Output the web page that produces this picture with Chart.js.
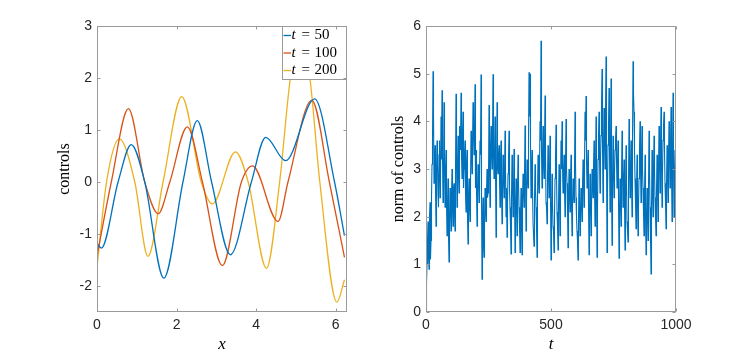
<!DOCTYPE html>
<html lang="en">
<head>
<meta charset="UTF-8">
<title>Controls</title>
<script src="https://cdn.jsdelivr.net/npm/chart.js"></script>
<style>
  body { margin: 0; background: #fff; }
  #wrap { position: relative; width: 747px; height: 357px; }
  canvas { position: absolute; top: 0; }
  #left { left: 0; }
  #right { left: 373px; }
</style>
</head>
<body>
<div id="wrap">
  <canvas id="left" width="373" height="357"></canvas>
  <canvas id="right" width="374" height="357"></canvas>
</div>
<script>
// left panel: controls u(x) at three times
const seriesNames = ['50', '100', '200'];
const seriesColors = ['#0072BD', '#D95319', '#EDB120'];

const x50 = [0, 0.11, 0.53, 0.86, 1.2, 1.68, 2.16, 2.52, 2.88, 3.35, 3.88, 4.24, 4.74, 5.47, 5.97, 6.22];
const u50 = [-1.18, -1.27, 0, 0.72, 0, -1.85, 0, 1.18, 0, -1.40, 0, 0.86, 0.41, 1.60, 0, -1.03];

const x100 = [0, 0.36, 0.79, 1.2, 1.54, 1.83, 2.27, 2.65, 3.15, 3.63, 3.91, 4.55, 4.80, 5.40, 5.84, 6.22];
const u100 = [-1.42, 0, 1.41, 0, -0.61, 0, 1.06, 0, -1.61, 0, 0.31, -0.76, 0, 1.57, 0, -1.45];

const x200 = [0, 0.24, 0.56, 0.95, 1.28, 1.66, 2.13, 2.62, 2.90, 3.48, 3.80, 4.26, 4.59, 4.86, 5.1, 5.35, 5.6, 6.03, 6.22];
const u200 = [-1.63, 0, 0.83, 0, -1.43, 0, 1.64, 0, -0.42, 0.58, 0, -1.66, 0, 2.0, 2.85, 2.0, 0, -2.31, -1.88];

const leftXTicks = [0, 2, 4, 6];
const leftYTicks = [-2, -1, 0, 1, 2, 3];

// right panel: norm of controls
// normVals at t = 0, 4, 8, ..., 1000 ; normMid at t = 2, 6, ..., 998
const tStep = 4;
const normVals = [
  0, 1.0, 1.9, 0.9, 2.3, 1.5, 3.1, 5.05, 2.7, 3.5, 1.8, 3.6, 2.5, 3.3, 2.4, 4.1, 4.65, 2.3, 4.4, 2.2, 3.4, 1.6, 2.8, 1.05, 2.6,
  1.7, 3.0, 1.8, 2.7, 1.7, 4.58, 2.2, 3.7, 2.5, 3.5, 4.6, 2.8, 4.2, 3.0, 3.6, 2.1, 3.4, 1.43, 2.8, 1.9, 3.8, 2.9, 4.4, 3.3, 4.78,
  3.4, 1.8, 3.1, 2.3, 3.6, 4.98, 0.69, 2.4, 1.15, 2.6, 1.9, 3.0, 2.5, 4.34, 2.2, 3.9, 3.0, 4.99, 2.8, 4.1, 1.57, 4.4, 2.9, 3.5, 2.2,
  3.6, 1.85, 3.3, 2.4, 3.8, 2.0, 1.57, 2.9, 3.8, 2.2, 1.22, 3.3, 2.0, 3.42, 1.25, 2.8, 1.6, 3.3, 2.2, 1.25, 2.6, 1.2, 2.9, 2.2, 3.91,
  1.7, 3.2, 2.6, 5.03, 5.0, 2.4, 3.4, 1.9, 1.38, 3.1, 2.2, 1.15, 3.3, 2.5, 4.0, 5.69, 2.6, 3.9, 2.8, 4.54, 2.3, 1.85, 3.5, 2.4, 3.7,
  1.09, 2.9, 1.8, 1.25, 2.8, 3.93, 2.1, 1.3, 3.1, 1.6, 3.6, 4.0, 2.5, 3.3, 2.0, 4.05, 2.7, 1.35, 3.0, 2.1, 3.3, 1.6, 2.8, 2.3, 4.2,
  2.4, 1.7, 1.09, 2.8, 1.6, 2.6, 1.9, 3.2, 2.2, 4.2, 4.53, 2.6, 3.4, 1.2, 2.9, 1.6, 3.0, 2.4, 3.6, 1.8, 4.1, 1.15, 3.2, 4.2, 2.5,
  3.7, 5.1, 2.3, 4.28, 3.0, 5.36, 1.25, 3.5, 4.7, 2.1, 4.9, 1.4, 3.7, 2.4, 3.4, 3.9, 2.6, 3.6, 1.13, 2.8, 1.8, 3.8, 2.2, 3.2, 1.3,
  3.5, 1.9, 1.47, 4.05, 2.4, 3.6, 2.0, 5.26, 4.2, 2.8, 1.75, 3.3, 1.6, 2.8, 4.0, 2.3, 3.9, 2.6, 1.6, 3.3, 1.2, 2.6, 1.5, 3.8, 2.2,
  0.8, 3.4, 2.0, 3.7, 2.4, 1.6, 3.3, 1.9, 3.9, 2.5, 4.3, 2.2, 3.6, 4.2, 2.7, 1.75, 3.5, 2.3, 4.0, 2.6, 4.3, 1.9, 4.6, 2.0, 3.4, 2.0
];
const normMid = [
  0.6, 1.5, 1.2, 2.0, 1.1, 2.4, 3.6, 4.2, 2.9, 2.6, 2.9, 3.1, 2.2, 3.6, 2.7, 3.2, 3.3, 2.6, 3.3, 2.8, 2.3, 2.2, 1.6, 1.9, 2.2,
  2.4, 2.2, 2.6, 2.1, 2.9, 3.3, 3.0, 2.9, 3.9, 3.4, 3.3, 3.7, 2.6, 3.3, 2.5, 3.1, 2.0, 2.4, 2.2, 2.7, 3.5, 3.4, 3.9, 3.7, 2.6,
  2.6, 2.5, 2.8, 2.9, 3.3, 2.5, 1.9, 1.4, 1.8, 2.2, 2.5, 2.4, 2.8, 3.1, 3.4, 3.3, 3.6, 3.4, 3.2, 3.0, 2.6, 3.1, 3.3, 2.8, 3.1,
  2.6, 2.5, 2.9, 2.8, 3.0, 2.6, 2.3, 3.2, 2.6, 1.8, 2.4, 2.7, 2.5, 2.6, 2.0, 2.3, 2.5, 2.7, 1.8, 2.0, 1.9, 2.3, 2.6, 2.8, 3.0,
  2.3, 2.9, 3.6, 4.1, 3.5, 2.9, 2.6, 1.9, 2.3, 2.6, 1.8, 2.4, 2.9, 3.0, 3.6, 3.4, 3.2, 3.1, 3.4, 3.3, 2.2, 2.8, 2.9, 2.9, 2.4,
  2.0, 2.3, 1.7, 2.0, 3.2, 2.9, 1.8, 2.2, 2.4, 2.6, 3.0, 3.1, 2.9, 2.6, 3.1, 3.0, 2.2, 2.4, 2.4, 2.7, 2.4, 2.2, 2.5, 3.0, 3.1,
  2.0, 1.5, 1.9, 2.2, 2.1, 2.2, 2.6, 2.7, 3.1, 3.6, 3.2, 3.0, 2.3, 2.0, 2.3, 2.2, 2.7, 3.0, 2.7, 2.9, 2.6, 2.2, 3.7, 3.3, 3.2,
  4.3, 3.5, 3.4, 3.6, 4.1, 3.2, 2.5, 3.9, 3.4, 3.3, 2.8, 2.6, 3.0, 2.9, 3.6, 3.2, 3.1, 2.4, 2.0, 2.3, 2.7, 3.0, 2.7, 2.3, 2.4,
  2.7, 1.7, 2.6, 3.2, 3.0, 2.8, 3.6, 4.6, 3.4, 2.3, 2.5, 2.4, 2.2, 3.4, 3.1, 3.2, 3.0, 2.1, 2.4, 2.2, 1.9, 2.0, 2.6, 3.0, 1.6,
  2.1, 2.7, 2.9, 3.0, 2.0, 2.5, 2.6, 2.9, 3.2, 3.4, 3.2, 2.9, 3.9, 3.4, 2.3, 2.6, 2.9, 3.2, 3.3, 3.4, 3.1, 3.2, 3.3, 2.7, 2.6
];
const rightXTicks = [0, 500, 1000];
const rightYTicks = [0, 1, 2, 3, 4, 5, 6];

const axisColor = '#262626';
const frameColor = '#9a9a9a';
const tickFont = { family: 'Liberation Sans', size: 14 };
const labelFont = { family: 'Liberation Serif', size: 16 };

function pts(xs, ys) {
  return xs.map((x, i) => ({ x: x, y: ys[i] }));
}

// put the two sampled sets together in time order
function normPoints() {
  const out = [];
  normVals.forEach((v, i) => {
    out.push({ x: i * tStep, y: v });
    if (i < normMid.length) out.push({ x: i * tStep + tStep / 2, y: normMid[i] });
  });
  return out;
}

// matlab style box with inward ticks
const boxPlugin = {
  id: 'mbox',
  afterDraw(chart) {
    const { ctx, chartArea: a, scales } = chart;
    const L = Math.round(a.left) + 0.5, R = Math.round(a.right) - 0.5;
    const T = Math.round(a.top) + 0.5, B = Math.round(a.bottom) - 0.5;
    ctx.save();
    ctx.strokeStyle = frameColor;
    ctx.lineWidth = 1;
    ctx.strokeRect(L, T, R - L, B - T);
    ctx.beginPath();
    scales.x.ticks.forEach(t => {
      const px = Math.round(scales.x.getPixelForValue(t.value)) + 0.5;
      ctx.moveTo(px, B); ctx.lineTo(px, B - 3);
      ctx.moveTo(px, T); ctx.lineTo(px, T + 3);
    });
    scales.y.ticks.forEach(t => {
      const py = Math.round(scales.y.getPixelForValue(t.value)) + 0.5;
      ctx.moveTo(L, py); ctx.lineTo(L + 3, py);
      ctx.moveTo(R, py); ctx.lineTo(R - 3, py);
    });
    ctx.stroke();
    ctx.restore();
  }
};

// legend box drawn inside the top right corner
const legendPlugin = {
  id: 'insideLegend',
  afterDatasetsDraw(chart) {
    const { ctx, chartArea: a } = chart;
    const sets = chart.data.datasets;
    const w = 64, h = 53;
    const x0 = Math.round(a.right) - w - 0.5, y0 = Math.round(a.top) + 0.5;
    ctx.save();
    ctx.fillStyle = '#fff';
    ctx.fillRect(x0, y0, w, h);
    ctx.strokeStyle = frameColor;
    ctx.lineWidth = 1;
    ctx.strokeRect(x0, y0, w, h);
    ctx.textBaseline = 'middle';
    sets.forEach((ds, i) => {
      const cy = y0 + 9 + i * 17.5;
      ctx.strokeStyle = ds.borderColor;
      ctx.lineWidth = 1.3;
      ctx.beginPath();
      ctx.moveTo(x0 + 1, cy); ctx.lineTo(x0 + 8.5, cy);
      ctx.stroke();
      ctx.fillStyle = '#000';
      ctx.font = 'italic 15px "Liberation Serif"';
      ctx.fillText('t', x0 + 9, cy);
      ctx.font = '15px "Liberation Serif"';
      ctx.fillText('=', x0 + 19, cy);
      ctx.fillText(seriesNames[i], x0 + 32, cy);
    });
    ctx.restore();
  }
};

function axis(opts) {
  return {
    type: 'linear',
    min: opts.min,
    max: opts.max,
    afterBuildTicks: s => { s.ticks = opts.ticks.map(v => ({ value: v })); },
    afterFit: opts.fit,
    grid: { display: false, drawTicks: false },
    border: { display: false },
    ticks: { font: tickFont, color: axisColor, padding: opts.pad, maxRotation: 0, autoSkip: false,
      callback: v => String(v) },
    title: { display: true, text: opts.title, color: '#000', font: opts.titleFont, padding: opts.titlePad }
  };
}

new Chart(document.getElementById('left'), {
  type: 'line',
  data: {
    datasets: [
      { label: 't = 50', data: pts(x50, u50), borderColor: seriesColors[0] },
      { label: 't = 100', data: pts(x100, u100), borderColor: seriesColors[1] },
      { label: 't = 200', data: pts(x200, u200), borderColor: seriesColors[2] }
    ]
  },
  options: {
    responsive: false,
    animation: false,
    devicePixelRatio: 1,
    layout: { padding: { top: 26, right: 26, left: 0, bottom: 0 } },
    elements: {
      point: { radius: 0 },
      line: { borderWidth: 1.3, cubicInterpolationMode: 'monotone', fill: false }
    },
    plugins: { legend: { display: false }, tooltip: { enabled: false } },
    scales: {
      x: axis({ min: 0, max: 2 * Math.PI, ticks: leftXTicks, fit: s => { s.height = 45; }, pad: 5,
        title: 'x', titleFont: { family: 'Liberation Serif', size: 17, style: 'italic' }, titlePad: { top: 0, bottom: 2 } }),
      y: axis({ min: -2.5, max: 3, ticks: leftYTicks, fit: s => { s.width = 97; }, pad: 5,
        title: 'controls', titleFont: labelFont, titlePad: { top: 55, bottom: 0 } })
    }
  },
  plugins: [legendPlugin, boxPlugin]
});

new Chart(document.getElementById('right'), {
  type: 'line',
  data: {
    datasets: [
      { label: 'norm', data: normPoints(), borderColor: seriesColors[0] }
    ]
  },
  options: {
    responsive: false,
    animation: false,
    devicePixelRatio: 1,
    layout: { padding: { top: 26, right: 71, left: 0, bottom: 0 } },
    elements: {
      point: { radius: 0 },
      line: { borderWidth: 1.1, tension: 0, fill: false }
    },
    plugins: { legend: { display: false }, tooltip: { enabled: false } },
    scales: {
      x: axis({ min: 0, max: 1000, ticks: rightXTicks, fit: s => { s.height = 45; }, pad: 5,
        title: 't', titleFont: { family: 'Liberation Serif', size: 17, style: 'italic' }, titlePad: { top: 0, bottom: 2 } }),
      y: axis({ min: 0, max: 6, ticks: rightYTicks, fit: s => { s.width = 53; }, pad: 5,
        title: 'norm of controls', titleFont: labelFont, titlePad: { top: 16, bottom: 0 } })
    }
  },
  plugins: [boxPlugin]
});
</script>
</body>
</html>
